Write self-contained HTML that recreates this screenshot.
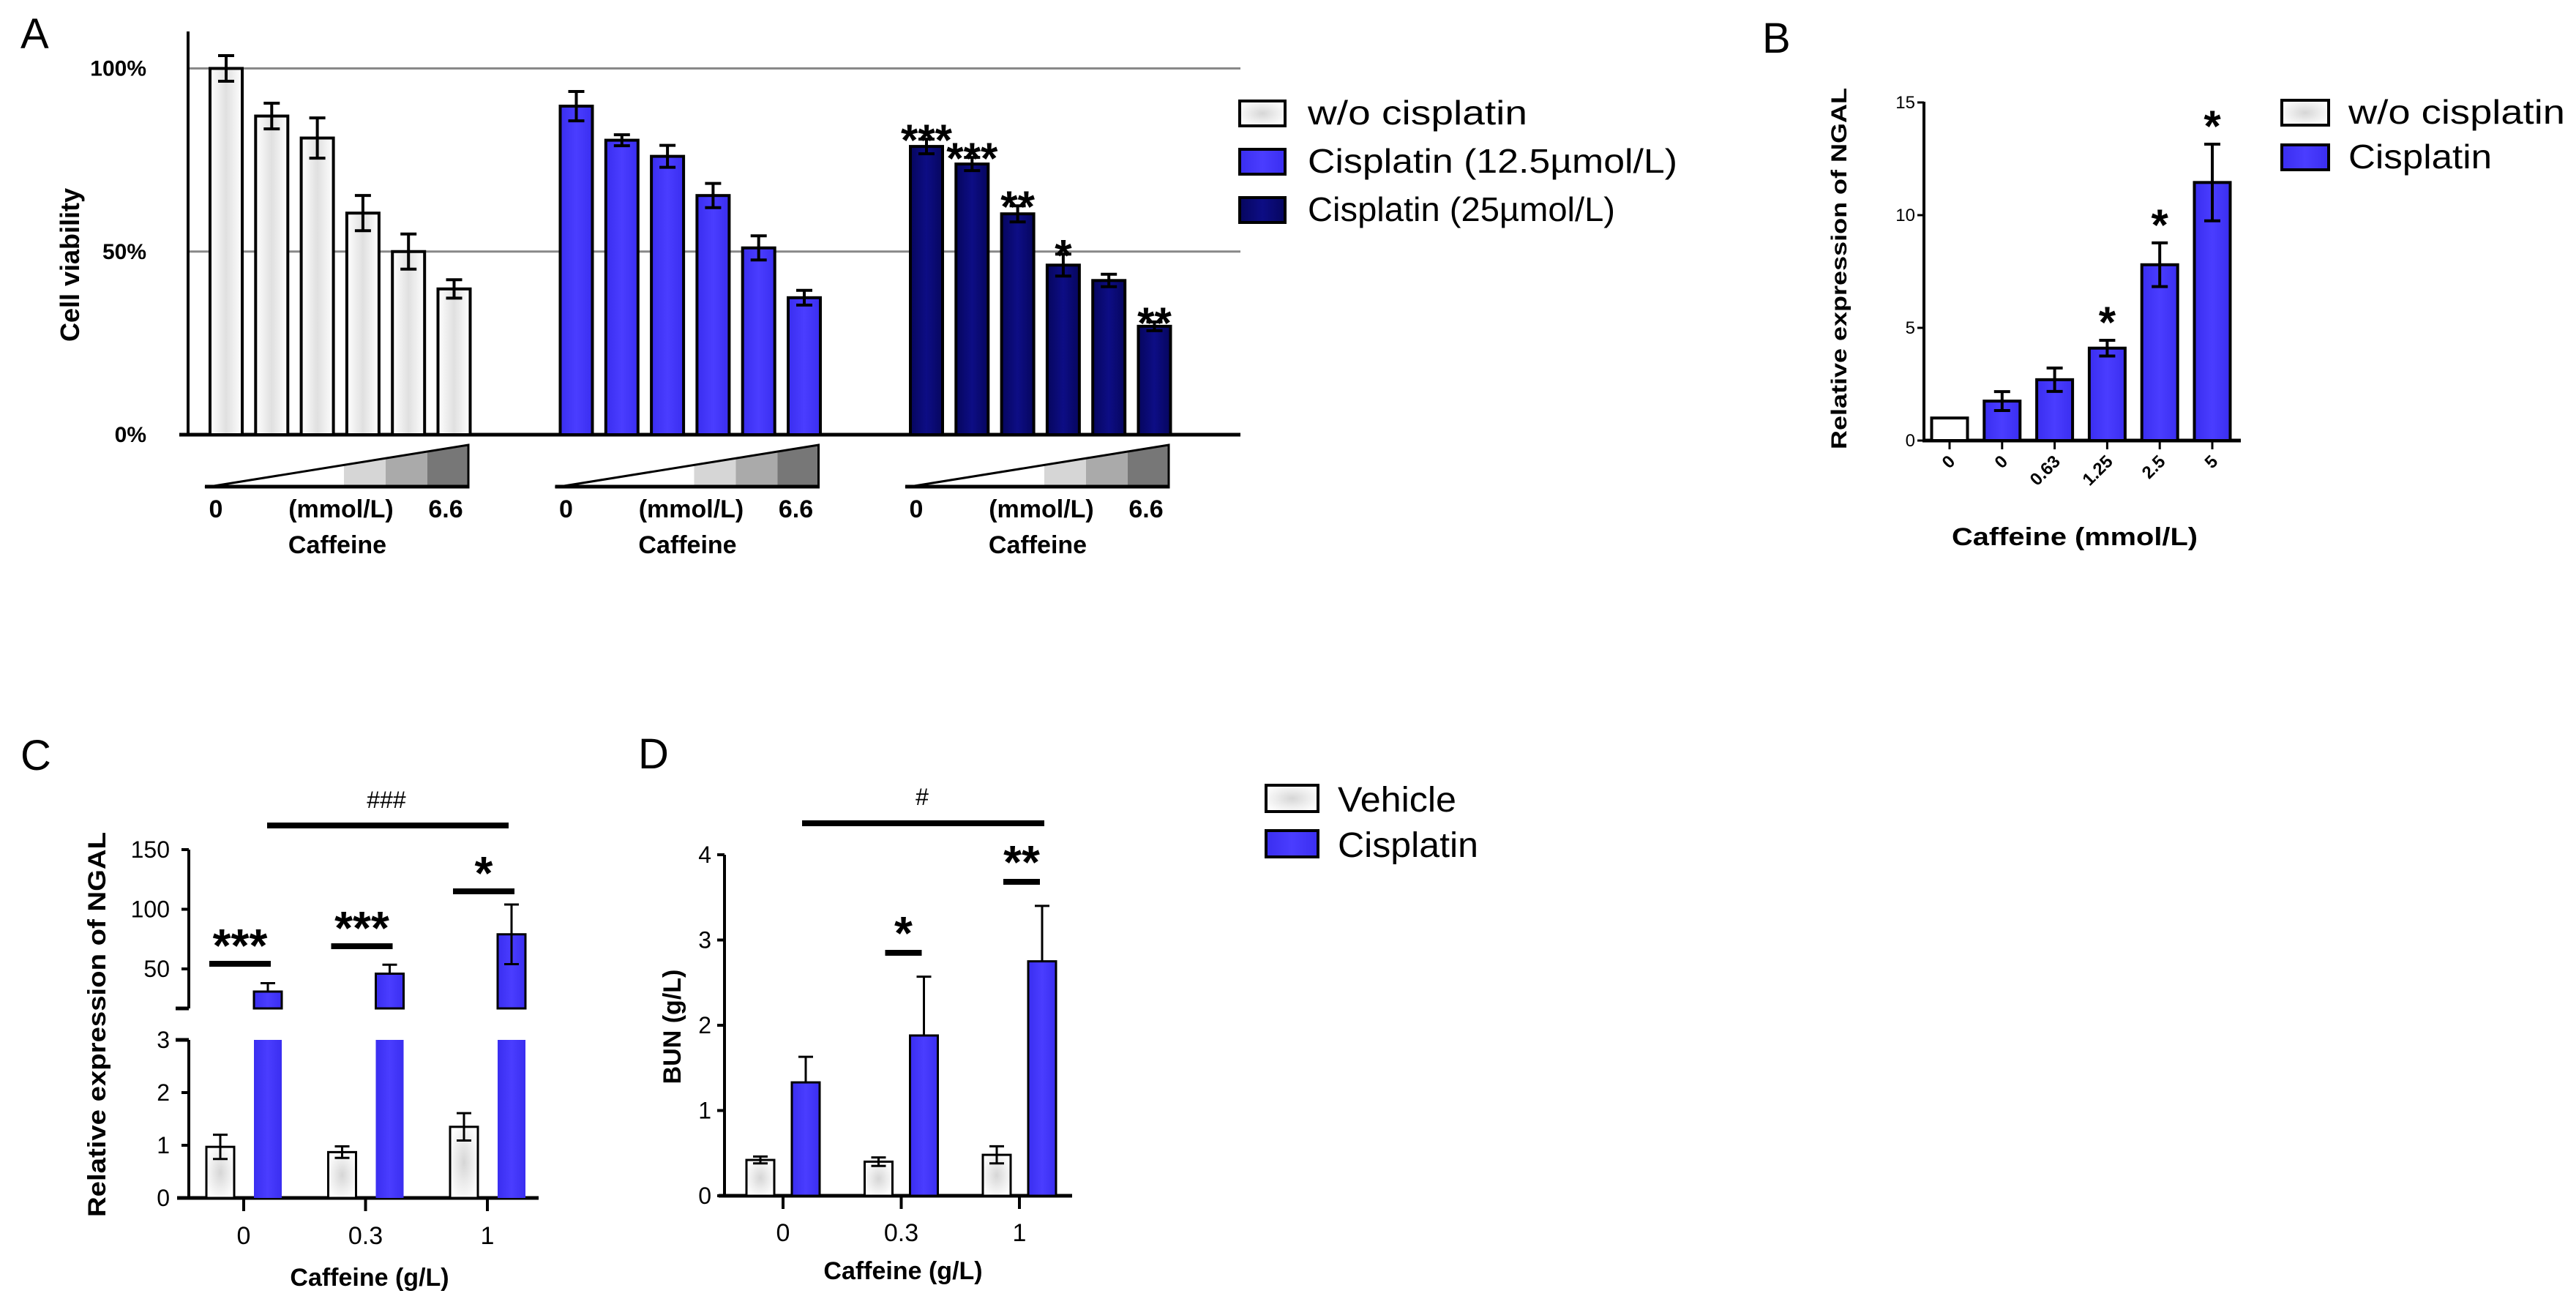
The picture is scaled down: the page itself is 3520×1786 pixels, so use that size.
<!DOCTYPE html>
<html><head><meta charset="utf-8"><title>Caffeine cisplatin figure</title>
<style>
html,body{margin:0;padding:0;background:#fff;}
svg{display:block;font-family:"Liberation Sans",sans-serif;}
.b{font-weight:bold;}
</style></head>
<body>
<svg id="fig" width="3520" height="1786" viewBox="0 0 3520 1786" xmlns="http://www.w3.org/2000/svg">
<defs>
<radialGradient id="wg" cx="50%" cy="50%" r="60%"><stop offset="0" stop-color="#d6d6d6"/><stop offset="0.5" stop-color="#ececec"/><stop offset="1" stop-color="#fff"/></radialGradient>
<linearGradient id="wgb" x1="0" x2="1" y1="0" y2="0"><stop offset="0" stop-color="#fff"/><stop offset="0.5" stop-color="#e0e0e0"/><stop offset="1" stop-color="#fff"/></linearGradient>
<linearGradient id="blg" x1="0" x2="1" y1="0" y2="0"><stop offset="0" stop-color="#3a2ef0"/><stop offset="0.5" stop-color="#4a3dff"/><stop offset="1" stop-color="#3a2ef0"/></linearGradient>
<linearGradient id="nvg" x1="0" x2="1" y1="0" y2="0"><stop offset="0" stop-color="#06065e"/><stop offset="0.5" stop-color="#0d0d85"/><stop offset="1" stop-color="#06065e"/></linearGradient>
</defs>
<g id="root"></g>
</svg>
<script>
// ---------- Panel A data ----------
const aGroups = ['w/o cisplatin','Cisplatin (12.5µmol/L)','Cisplatin (25µmol/L)'];
const aNoCis = [100, 87, 81, 60.5, 50, 39.8];
const aNoCisErr = [3.5, 3.5, 5.5, 4.8, 4.8, 2.5];
const aCis125 = [89.7, 80.4, 76, 65.3, 51, 37.4];
const aCis125Err = [4, 1.5, 3, 3.3, 3.3, 2];
const aCis25 = [78.7, 73.9, 60.3, 46.3, 42.1, 29.6];
const aCis25Err = [2, 1.8, 2.2, 3, 1.7, 1.2];
const aCis25Stars = ['***','***','**','*','','**'];
const aTicks = [0, 50, 100];
const aTickLabels = ['0%','50%','100%'];
// ---------- Panel B data ----------
const bCats = ['0','0','0.63','1.25','2.5','5'];
const bVals = [1, 1.75, 2.7, 4.1, 7.8, 11.45];
const bErr = [0, 0.42, 0.52, 0.35, 0.97, 1.7];
const bStars = ['','','','*','*','*'];
const bTicks = [0, 5, 10, 15];
// ---------- Panel C data ----------
const cCats = ['0','0.3','1'];
const cVehicle = [0.97, 0.87, 1.35];
const cVehicleErr = [0.23, 0.11, 0.26];
const cCisplatin = [31, 46, 79];
const cCisplatinErr = [7, 7.5, 25];
const cStars = ['***','***','*'];
const cLowTicks = [0, 1, 2, 3];
const cHighTicks = [50, 100, 150];
// ---------- Panel D data ----------
const dCats = ['0','0.3','1'];
const dVehicle = [0.42, 0.4, 0.48];
const dVehicleErr = [0.04, 0.05, 0.1];
const dCisplatin = [1.33, 1.88, 2.75];
const dCisplatinErr = [0.3, 0.69, 0.65];
const dStars = ['','*','**'];
const dTicks = [0, 1, 2, 3, 4];

const NS='http://www.w3.org/2000/svg';
const root=document.getElementById('root');
function mk(tag,attrs,parent){const e=document.createElementNS(NS,tag);for(const k in attrs)e.setAttribute(k,attrs[k]);(parent||root).appendChild(e);return e;}
function txt(s,attrs,parent){const e=mk('text',attrs,parent);e.textContent=s;return e;}
function line(x1,y1,x2,y2,w,parent){return mk('line',{x1,y1,x2,y2,stroke:'#000','stroke-width':w||4},parent);}
function errbar(x,yTop,yBot,hw,parent,w){line(x,yTop,x,yBot,w||4,parent);line(x-hw,yTop,x+hw,yTop,w||4,parent);line(x-hw,yBot,x+hw,yBot,w||4,parent);}
function errUp(x,yTop,yBar,hw,parent,w){line(x,yTop,x,yBar,w||4,parent);line(x-hw,yTop,x+hw,yTop,w||4,parent);}

// =============== PANEL A ===============
const gA=mk('g',{});


const yA=v=>594-v*5.005;
const tA=txt('A',{x:28,y:66,'font-size':58},gA);


[50,100].forEach(v=>{const l=mk('line',{x1:257,y1:yA(v),x2:1695,y2:yA(v),stroke:'#888','stroke-width':3},gA);

});
line(257,43,257,596,4,gA);
const xaA=line(245,594,1695,594,5,gA);


aTicks.forEach((v,i)=>{const t=txt(aTickLabels[i],{x:200,y:yA(v)+10,'font-size':30,'text-anchor':'end','font-family':'Liberation Sans Narrow, Liberation Sans, sans-serif',class:'b'},gA);

});
const yla=txt('Cell viability',{x:0,y:0,'font-size':36,class:'b','text-anchor':'middle',transform:'translate(108,362) rotate(-90)'},gA);


const aSeries=[aNoCis,aCis125,aCis25], aErrs=[aNoCisErr,aCis125Err,aCis25Err], aFills=['url(#wgb)','url(#blg)','url(#nvg)'];
aSeries.forEach((ser,g)=>{
  const g0=287+g*478.5;
  ser.forEach((v,i)=>{
    const x=g0+i*62.3, w=44, cx=x+w/2;
    const r=mk('rect',{x,y:yA(v),width:w,height:594-yA(v),fill:aFills[g],stroke:'#000','stroke-width':4},gA);
    
    
    errbar(cx,yA(v+aErrs[g][i]),yA(v-aErrs[g][i]),11,gA);
    if(g===2&&aCis25Stars[i]){const s=txt(aCis25Stars[i],{x:cx,y:yA(v+aErrs[g][i])+22,'font-size':60,class:'b','text-anchor':'middle'},gA);
      
      }
  });
  const tx=280+g*478.5;
  const cp=mk('clipPath',{id:'tri'+g},gA);
  mk('polygon',{points:`${tx},666 ${tx+360},608 ${tx+360},666`},cp);
  const tg=mk('g',{'clip-path':`url(#tri${g})`},gA);
  
  
  mk('rect',{x:tx+190,y:600,width:57,height:70,fill:'#d6d6d6'},tg);
  mk('rect',{x:tx+247,y:600,width:57,height:70,fill:'#aaaaaa'},tg);
  mk('rect',{x:tx+304,y:600,width:57,height:70,fill:'#777'},tg);
  mk('polygon',{points:`${tx},666 ${tx+360},608 ${tx+360},666`,fill:'none',stroke:'#000','stroke-width':3},gA);
  line(tx,665,tx+360,665,5,gA);
  const f='Liberation Sans Narrow, Liberation Sans, sans-serif';
  [['0',tx+15],['(mmol/L)',tx+186],['6.6',tx+329]].forEach(([s,x])=>{const t=txt(s,{x,y:707,'font-size':34,class:'b','text-anchor':'middle','font-family':f},gA);
    
    });
  const c=txt('Caffeine',{x:tx+181,y:756,'font-size':34,class:'b','text-anchor':'middle','font-family':f},gA);
  
  
});
const legA=mk('g',{},gA);


[['w/o cisplatin','url(#wg)',138,300],['Cisplatin (12.5µmol/L)','url(#blg)',204,505],['Cisplatin (25µmol/L)','url(#nvg)',270,420]].forEach(([s,f,y,tl])=>{
  const e=mk('g',{},legA);
  
  
  mk('rect',{x:1694,y,width:62,height:34,fill:f,stroke:'#000','stroke-width':4},e);
  txt(s,{x:1787,y:y+32,'font-size':46,textLength:tl,lengthAdjust:'spacingAndGlyphs'},e);
});

// =============== PANEL B ===============
const gB=mk('g',{});


const yB=v=>602-v*30.8;
const xB=i=>2664+i*71.8;
const tB=txt('B',{x:2408,y:72,'font-size':58},gB);


line(2629,139,2629,604,4,gB);
line(2627,602,3062,602,5,gB);
bTicks.forEach(v=>{line(2620,yB(v),2629,yB(v),3,gB);
  const t=txt(String(v),{x:2617,y:yB(v)+8,'font-size':24,'text-anchor':'end','font-family':'Liberation Sans Narrow, Liberation Sans, sans-serif'},gB);
  
  });
bCats.forEach((c,i)=>{
  const cx=xB(i), w=49, v=bVals[i];
  const r=mk('rect',{x:cx-w/2,y:yB(v),width:w,height:602-yB(v),fill:i===0?'#fff':'url(#blg)',stroke:'#000','stroke-width':4},gB);
  
  
  if(bErr[i]>0)errbar(cx,yB(v+bErr[i]),yB(v-bErr[i]),11,gB);
  line(cx,602,cx,614,3,gB);
  const t=txt(c,{x:0,y:0,'font-size':24,class:'b','text-anchor':'end',transform:`translate(${cx+9},${632}) rotate(-45)`},gB);
  
  
  if(bStars[i]){const s=txt(bStars[i],{x:cx,y:yB(v+bErr[i])-4,'font-size':60,class:'b','text-anchor':'middle'},gB);
    
    }
});
const xtB=txt('Caffeine (mmol/L)',{x:2835,y:745,'font-size':34,class:'b','text-anchor':'middle',textLength:336,lengthAdjust:'spacingAndGlyphs'},gB);


const ytB=txt('Relative expression of NGAL',{x:0,y:0,'font-size':30,class:'b','text-anchor':'middle',textLength:494,lengthAdjust:'spacingAndGlyphs',transform:'translate(2523,367) rotate(-90)'},gB);


const legB=mk('g',{},gB);


[['w/o cisplatin','url(#wg)',137,296],['Cisplatin','url(#blg)',198,196]].forEach(([s,f,y,tl])=>{
  const e=mk('g',{},legB);
  
  
  mk('rect',{x:3118,y,width:64,height:34,fill:f,stroke:'#000','stroke-width':4},e);
  txt(s,{x:3209,y:y+32,'font-size':46,textLength:tl,lengthAdjust:'spacingAndGlyphs'},e);
});

// =============== PANEL C ===============
const gC=mk('g',{});


const yCl=v=>1637-v*72;
const yCu=v=>1324-(v-50)*1.63;
const upperBottom=1378, lowerTop=1421;
const xC=i=>333+i*166.5;
const tC=txt('C',{x:28,y:1052,'font-size':58},gC);


line(258,yCu(150),258,upperBottom,4,gC);
line(258,lowerTop,258,1639,4,gC);
line(240,upperBottom,258,upperBottom,5,gC);
line(240,lowerTop,258,lowerTop,5,gC);
line(242,1637,736,1637,5,gC);
const fN='Liberation Sans Narrow, Liberation Sans, sans-serif';
cLowTicks.forEach(v=>{line(248,yCl(v),258,yCl(v),4,gC);
  const t=txt(String(v),{x:232,y:yCl(v)+11,'font-size':32,'text-anchor':'end','font-family':fN},gC);
  
  });
cHighTicks.forEach(v=>{line(248,yCu(v),258,yCu(v),4,gC);
  const t=txt(String(v),{x:232,y:yCu(v)+11,'font-size':32,'text-anchor':'end','font-family':fN},gC);
  
  });
cCats.forEach((c,i)=>{
  const cx=xC(i);
  const wx=cx-32, bx=cx+33, w=38;
  const vv=cVehicle[i];
  const r1=mk('rect',{x:wx-w/2,y:yCl(vv),width:w,height:1637-yCl(vv),fill:'url(#wg)',stroke:'#000','stroke-width':3},gC);
  
  
  errbar(wx,yCl(vv+cVehicleErr[i]),yCl(vv-cVehicleErr[i]),10,gC,3);
  const cv=cCisplatin[i];
  const r2=mk('rect',{x:bx-w/2,y:yCu(cv),width:w,height:upperBottom-yCu(cv),fill:'url(#blg)',stroke:'#000','stroke-width':3},gC);
  
  
  const r3=mk('rect',{x:bx-w/2,y:lowerTop,width:w,height:1637-lowerTop,fill:'url(#blg)',stroke:'none'},gC);
  
  
  if(i===2) errbar(bx,yCu(cv+cCisplatinErr[i]),yCu(cv-cCisplatinErr[i]),10,gC,3);
  else errUp(bx,yCu(cv+cCisplatinErr[i]),yCu(cv),10,gC,3);
  line(cx,1637,cx,1655,4,gC);
  const t=txt(c,{x:cx,y:1700,'font-size':34,'text-anchor':'middle','font-family':fN},gC);
  
  
  const ly=[1317,1293,1218][i];
  line(cx-47,ly,cx+37,ly,8,gC);
  const s=txt(cStars[i],{x:cx-5,y:ly-3,'font-size':64,class:'b','text-anchor':'middle'},gC);
  
  
});
line(365,1128,695,1128,8,gC);
const hC=txt('###',{x:528,y:1104,'font-size':32,'text-anchor':'middle','font-family':fN},gC);


const ytC=txt('Relative expression of NGAL',{x:0,y:0,'font-size':34,class:'b','text-anchor':'middle',textLength:526,lengthAdjust:'spacingAndGlyphs',transform:'translate(144,1400) rotate(-90)'},gC);


const xtC=txt('Caffeine (g/L)',{x:505,y:1757,'font-size':34,class:'b','text-anchor':'middle','font-family':fN},gC);



// =============== PANEL D ===============
const gD=mk('g',{});


const yD=v=>1634-v*116.5;
const xD=i=>1070+i*161.5;
const tD=txt('D',{x:872,y:1050,'font-size':58},gD);


line(990,yD(4),990,1636,4,gD);
line(982,1634,1465,1634,5,gD);
dTicks.forEach(v=>{line(980,yD(v),990,yD(v),4,gD);
  const t=txt(String(v),{x:972,y:yD(v)+11,'font-size':32,'text-anchor':'end','font-family':fN},gD);
  
  });
dCats.forEach((c,i)=>{
  const cx=xD(i), wx=cx-31, bx=cx+31, w=38;
  const vv=dVehicle[i];
  const r1=mk('rect',{x:wx-w/2,y:yD(vv),width:w,height:1634-yD(vv),fill:'url(#wg)',stroke:'#000','stroke-width':3},gD);
  
  
  errbar(wx,yD(vv+dVehicleErr[i]),yD(vv-dVehicleErr[i]),10,gD,3);
  const cv=dCisplatin[i];
  const r2=mk('rect',{x:bx-w/2,y:yD(cv),width:w,height:1634-yD(cv),fill:'url(#blg)',stroke:'#000','stroke-width':3},gD);
  
  
  errUp(bx,yD(cv+dCisplatinErr[i]),yD(cv),10,gD,3);
  line(cx,1634,cx,1652,4,gD);
  const t=txt(c,{x:cx,y:1696,'font-size':34,'text-anchor':'middle','font-family':fN},gD);
  
  
  if(dStars[i]){
    const ly=[0,1302,1205][i];
    line(cx-22,ly,cx+28,ly,8,gD);
    const s=txt(dStars[i],{x:cx+3,y:ly-5,'font-size':64,class:'b','text-anchor':'middle'},gD);
    
    
  }
});
line(1096,1125,1427,1125,8,gD);
const hD=txt('#',{x:1260,y:1100,'font-size':32,'text-anchor':'middle','font-family':fN},gD);


const ytD=txt('BUN (g/L)',{x:0,y:0,'font-size':34,class:'b','text-anchor':'middle',transform:'translate(930,1403) rotate(-90)'},gD);


const xtD=txt('Caffeine (g/L)',{x:1234,y:1748,'font-size':34,class:'b','text-anchor':'middle','font-family':fN},gD);


const legC=mk('g',{});


[['Vehicle','url(#wg)',1073,162],['Cisplatin','url(#blg)',1135,192]].forEach(([s,f,y,tl])=>{
  const e=mk('g',{},legC);
  
  
  mk('rect',{x:1730,y,width:71,height:36,fill:f,stroke:'#000','stroke-width':4},e);
  txt(s,{x:1828,y:y+36,'font-size':48,textLength:tl,lengthAdjust:'spacingAndGlyphs'},e);
});
</script>
</body></html>
